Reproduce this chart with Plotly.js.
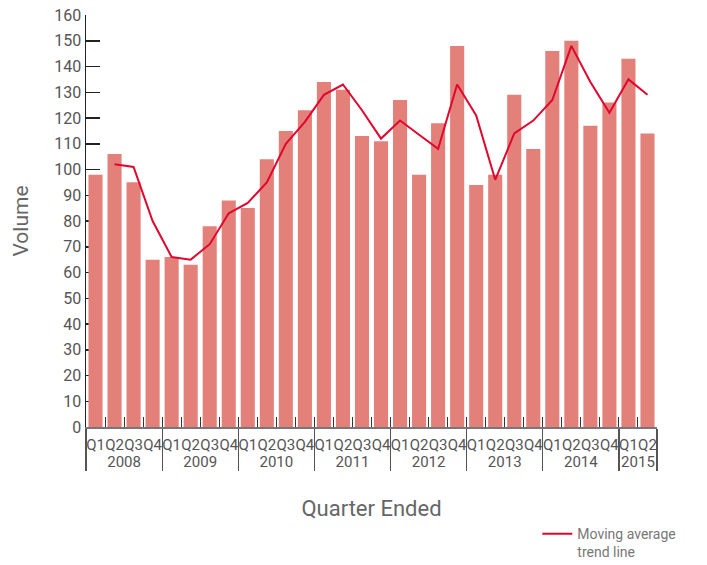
<!DOCTYPE html>
<html>
<head>
<meta charset="utf-8">
<script src="https://cdn.plot.ly/plotly-3.0.1.min.js"></script>
<style>html,body{margin:0;padding:0;background:#fff;}#chart{width:707px;height:565px;}</style>
</head>
<body>
<div id="chart"></div>
<script>
const years = ['2008','2008','2008','2008','2009','2009','2009','2009','2010','2010','2010','2010',
  '2011','2011','2011','2011','2012','2012','2012','2012','2013','2013','2013','2013',
  '2014','2014','2014','2014','2015','2015'];
const quarters = ['Q1','Q2','Q3','Q4','Q1','Q2','Q3','Q4','Q1','Q2','Q3','Q4',
  'Q1','Q2','Q3','Q4','Q1','Q2','Q3','Q4','Q1','Q2','Q3','Q4',
  'Q1','Q2','Q3','Q4','Q1','Q2'];
const volume = [98, 106, 95, 65, 66, 63, 78, 88, 85, 104, 115, 123,
  134, 131, 113, 111, 127, 98, 118, 148, 94, 98, 129, 108,
  146, 150, 117, 126, 143, 114];
const movingAverage = [null, 102, 101, 80, 66, 65, 71, 83, 87, 95, 110, 118.5,
  129, 133, 123, 112, 119, 113.5, 108, 133, 121, 96, 114, 119,
  127, 148, 134, 122, 135, 129];
const yTicks = [0,10,20,30,40,50,60,70,80,90,100,110,120,130,140,150,160];

const FONT = 'Roboto, sans-serif';
const x = [years, quarters];

const traces = [
  {
    type: 'bar', x: x, y: volume, name: 'Volume',
    marker: {color: '#E3807A'}, showlegend: false, hoverinfo: 'y'
  },
  {
    type: 'scatter', mode: 'lines', x: x, y: movingAverage,
    name: 'Moving average<br>trend line',
    line: {color: '#E0062E', width: 2}, connectgaps: false
  }
];

const layout = {
  width: 707, height: 565,
  margin: {l: 86, r: 50, t: 15, b: 138, autoexpand: false},
  paper_bgcolor: '#fff', plot_bgcolor: '#fff',
  font: {family: FONT, color: '#555', size: 15},
  bargap: 0.26,
  xaxis: {
    type: 'multicategory', automargin: false,
    tickmode: 'linear', tick0: 0, dtick: 1, tickangle: 0,
    ticklabelstandoff: 3,
    showline: true, linecolor: '#777', linewidth: 1.5,
    ticks: 'inside', ticklen: 10, tickcolor: '#333', tickwidth: 1,
    tickson: 'boundaries',
    showdividers: true, dividercolor: '#555', dividerwidth: 1.2,
    tickfont: {family: FONT, size: 15, color: '#555'},
    showgrid: false, zeroline: false, layer: 'below traces',
    title: {text: 'Quarter Ended', font: {family: FONT, size: 22, color: '#666'}, standoff: 31}
  },
  yaxis: {
    automargin: false,
    range: [0, 160], tickvals: yTicks, ticktext: yTicks.map(String),
    showline: true, linecolor: '#222', linewidth: 1.5,
    ticks: 'inside', ticklen: 14, tickcolor: '#222', tickwidth: 1.5,
    showgrid: false, zeroline: false, layer: 'below traces',
    tickfont: {family: FONT, size: 16, color: '#555'},
    title: {text: 'Volume', font: {family: FONT, size: 21, color: '#666'}, standoff: 20}
  },
  showlegend: true,
  legend: {
    xref: 'container', yref: 'container',
    x: 0.76, y: 0.083, xanchor: 'left', yanchor: 'top',
    font: {family: FONT, size: 14, color: '#777'},
    bgcolor: 'rgba(0,0,0,0)', valign: 'top'
  }
};

Plotly.newPlot('chart', traces, layout, {displayModeBar: false, staticPlot: true});
</script>
</body>
</html>
